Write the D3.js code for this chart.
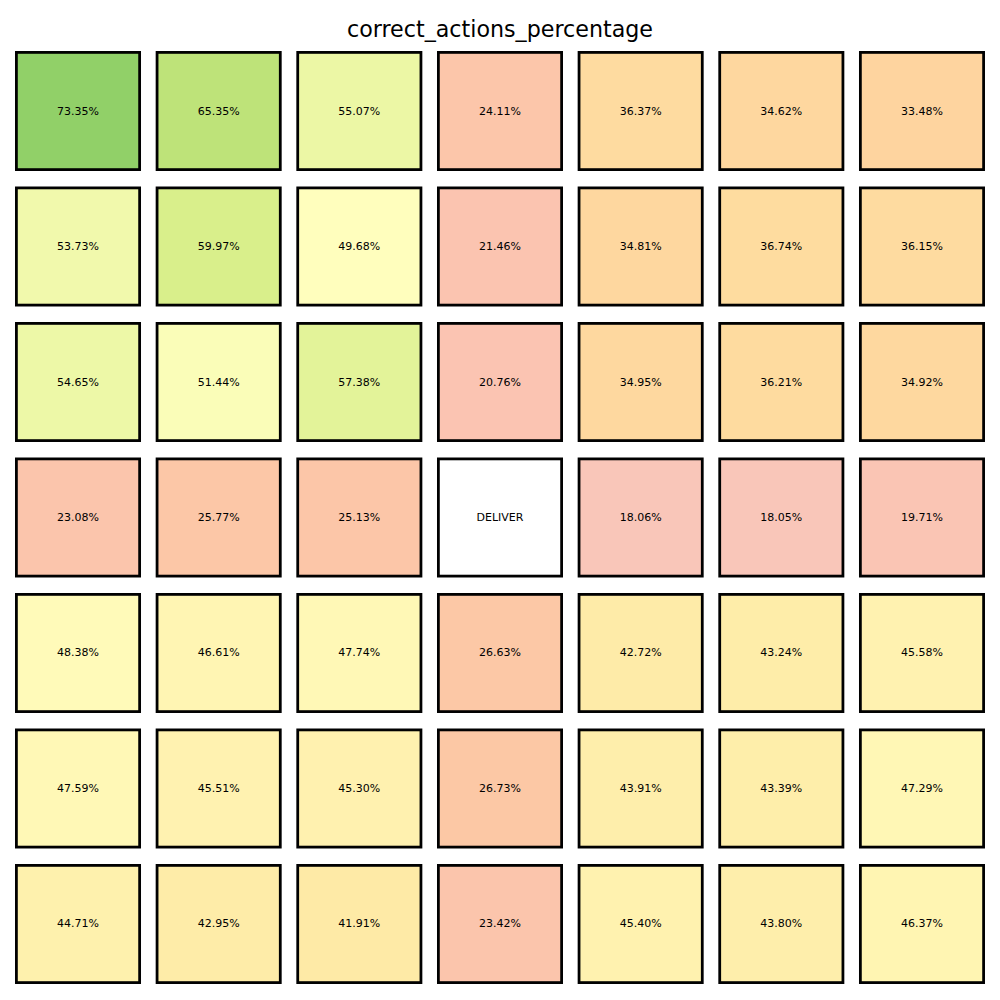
<!DOCTYPE html>
<html>
<head>
<meta charset="utf-8">
<script src="https://cdn.jsdelivr.net/npm/d3@7"></script>
<style>
  html, body { margin: 0; padding: 0; background: #fff; }
  svg { display: block; }
</style>
</head>
<body>
<svg id="chart" width="1000" height="1000"></svg>
<script>
const title = "correct_actions_percentage";
const rowIds = [0, 1, 2, 3, 4, 5, 6];
const colIds = [0, 1, 2, 3, 4, 5, 6];
const row0 = [73.35, 65.35, 55.07, 24.11, 36.37, 34.62, 33.48];
const row1 = [53.73, 59.97, 49.68, 21.46, 34.81, 36.74, 36.15];
const row2 = [54.65, 51.44, 57.38, 20.76, 34.95, 36.21, 34.92];
const row3 = [23.08, 25.77, 25.13, null, 18.06, 18.05, 19.71];
const row4 = [48.38, 46.61, 47.74, 26.63, 42.72, 43.24, 45.58];
const row5 = [47.59, 45.51, 45.30, 26.73, 43.91, 43.39, 47.29];
const row6 = [44.71, 42.95, 41.91, 23.42, 45.40, 43.80, 46.37];
const specialLabel = "DELIVER";

const rows = [row0, row1, row2, row3, row4, row5, row6];
const cells = [];
rows.forEach((r, i) => r.forEach((v, j) => cells.push({ row: i, col: j, value: v })));

// matplotlib RdYlGn
const rdylgn = ["#a50026","#d73027","#f46d43","#fdae61","#fee08b","#ffffbf","#d9ef8b","#a6d96a","#66bd63","#1a9850","#006837"];
const cmap = d3.scaleLinear().domain(d3.range(11).map(i => i / 10)).range(rdylgn).clamp(true);
const alpha = v => Math.min(1, v / 50);
function fillFor(v) {
  if (v === null) return "#ffffff";
  const c = d3.rgb(cmap(v / 100));
  const a = alpha(v);
  return d3.rgb(255 - a * (255 - c.r), 255 - a * (255 - c.g), 255 - a * (255 - c.b)).formatHex();
}

const svg = d3.select("#chart");
const x = d3.scaleBand().domain(colIds).range([16.4, 983.6]).paddingInner(0.124).paddingOuter(0);
const y = d3.scaleBand().domain(rowIds).range([52.4, 982.6]).paddingInner(0.135).paddingOuter(0);

svg.append("text")
  .attr("x", 500).attr("y", 36.5)
  .attr("text-anchor", "middle")
  .style("font-family", "DejaVu Sans, sans-serif")
  .style("font-size", "22.2px")
  .attr("fill", "#000")
  .text(title);

const g = svg.append("g").selectAll("g").data(cells).join("g");
g.append("rect")
  .attr("x", d => x(d.col))
  .attr("y", d => y(d.row))
  .attr("width", x.bandwidth())
  .attr("height", y.bandwidth())
  .attr("fill", d => fillFor(d.value))
  .attr("stroke", "#000")
  .attr("stroke-width", 2.78);
g.append("text")
  .attr("x", d => x(d.col) + x.bandwidth() / 2)
  .attr("y", d => y(d.row) + y.bandwidth() / 2)
  .attr("text-anchor", "middle")
  .attr("dominant-baseline", "central")
  .style("font-family", "DejaVu Sans, sans-serif")
  .style("font-size", "11px")
  .attr("fill", "#000")
  .text(d => d.value === null ? specialLabel : d.value.toFixed(2) + "%");
</script>
</body>
</html>
